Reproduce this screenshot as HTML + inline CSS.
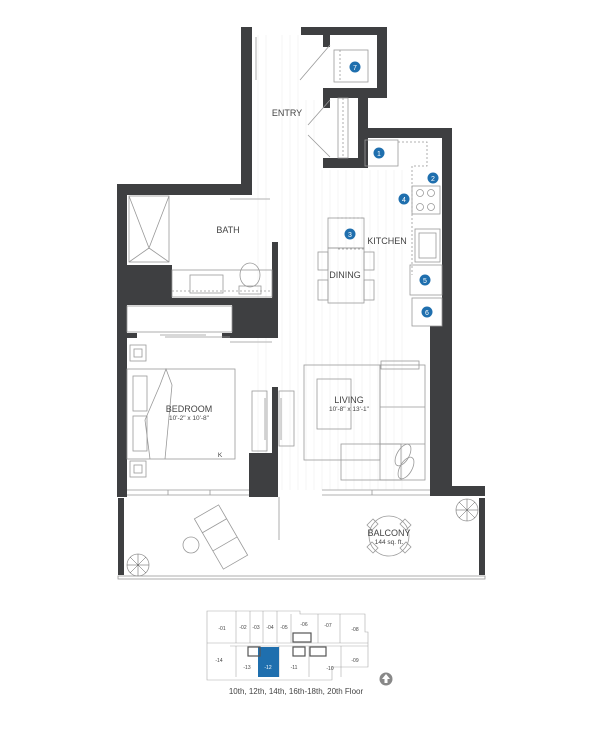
<!DOCTYPE html>
<html><head><meta charset="utf-8"><style>
html,body{margin:0;padding:0;background:#fff;}
svg{display:block;}
text{font-family:"Liberation Sans",sans-serif;fill:#444;}
</style></head><body>
<svg width="600" height="742" viewBox="0 0 600 742" xmlns="http://www.w3.org/2000/svg">
<!-- floor lines -->
<g stroke="#eeeeee" stroke-width="0.6">
<line x1="258" y1="35" x2="258" y2="490"/><line x1="266" y1="35" x2="266" y2="490"/><line x1="282" y1="35" x2="282" y2="490"/><line x1="290" y1="35" x2="290" y2="490"/><line x1="298" y1="35" x2="298" y2="490"/><line x1="306" y1="100" x2="306" y2="490"/><line x1="314" y1="100" x2="314" y2="490"/><line x1="322" y1="170" x2="322" y2="490"/><line x1="330" y1="170" x2="330" y2="490"/><line x1="338" y1="170" x2="338" y2="490"/><line x1="346" y1="170" x2="346" y2="490"/><line x1="354" y1="170" x2="354" y2="490"/><line x1="362" y1="170" x2="362" y2="490"/><line x1="370" y1="170" x2="370" y2="490"/><line x1="378" y1="170" x2="378" y2="490"/><line x1="386" y1="170" x2="386" y2="490"/><line x1="394" y1="170" x2="394" y2="490"/><line x1="402" y1="170" x2="402" y2="490"/>
</g>
<!-- walls -->
<g fill="#3e3f41">
<rect x="241" y="27" width="11" height="168"/>
<rect x="301" y="27" width="86" height="8"/>
<rect x="377" y="27" width="10" height="71"/>
<rect x="323" y="35" width="7" height="12"/>
<rect x="323" y="88" width="64" height="10"/>
<rect x="323" y="98" width="7" height="10"/>
<rect x="358" y="98" width="10" height="70"/>
<rect x="323" y="158" width="45" height="10"/>
<rect x="358" y="128" width="94" height="10"/>
<rect x="442" y="128" width="10" height="200"/>
<rect x="430" y="326" width="22" height="170"/>
<rect x="430" y="486" width="55" height="10"/>
<rect x="117" y="184" width="135" height="11"/>
<rect x="117" y="184" width="10" height="313"/>
<rect x="127" y="265" width="45" height="40"/>
<rect x="127" y="298" width="151" height="7"/>
<rect x="272" y="242" width="6" height="60"/>
<rect x="232" y="305" width="46" height="33"/>
<rect x="127" y="333" width="10" height="5"/>
<rect x="222" y="333" width="56" height="5"/>
<rect x="272" y="387" width="6" height="70"/>
<rect x="249" y="453" width="29" height="44"/>
<rect x="118" y="498" width="6" height="77"/>
<rect x="479" y="498" width="6" height="77"/>
</g>
<g fill="none" stroke="#999" stroke-width="0.8">
<!-- balcony rail -->
<rect x="118" y="576" width="367" height="3"/>
<line x1="279" y1="497" x2="279" y2="540"/>
<!-- windows -->
<line x1="127" y1="490" x2="249" y2="490"/><line x1="127" y1="495" x2="249" y2="495"/>
<line x1="322" y1="490" x2="430" y2="490"/><line x1="322" y1="495" x2="430" y2="495"/>
<line x1="168" y1="490" x2="168" y2="495"/><line x1="210" y1="490" x2="210" y2="495"/><line x1="372" y1="490" x2="372" y2="495"/>
<!-- entry door -->
<line x1="256" y1="37" x2="256" y2="80"/>
<line x1="330" y1="45" x2="300" y2="80"/>
<line x1="330" y1="100" x2="308" y2="125"/><line x1="330" y1="157" x2="308" y2="135"/>
<!-- closet 7 -->
<rect x="334" y="50" width="34" height="32"/><line x1="340" y1="50" x2="340" y2="82" stroke-dasharray="2,2"/>
<rect x="338" y="98" width="10" height="60"/><line x1="343" y1="98" x2="343" y2="158" stroke-dasharray="2,2"/>
<!-- kitchen -->
<rect x="365" y="140" width="33" height="26"/>
<path d="M398 142 H427 V166 H412 V275" stroke-dasharray="2,2"/>
<rect x="412" y="186" width="28" height="28"/>
<circle cx="420" cy="193" r="3.5"/><circle cx="431" cy="193" r="3.5"/><circle cx="420" cy="207" r="3.5"/><circle cx="431" cy="207" r="3.5"/>
<rect x="415" y="229" width="25" height="33"/><rect x="419" y="233" width="17" height="25"/>
<rect x="410" y="265" width="32" height="30"/>
<rect x="412" y="298" width="30" height="28"/>
<!-- island/dining -->
<rect x="328" y="218" width="36" height="30"/><line x1="337" y1="218" x2="364" y2="218" stroke-dasharray="2,2"/><line x1="338" y1="249" x2="364" y2="249" stroke-dasharray="2,2"/>
<rect x="328" y="248" width="36" height="55"/>
<rect x="318" y="252" width="10" height="18"/><rect x="318" y="280" width="10" height="20"/><rect x="364" y="252" width="10" height="18"/><rect x="364" y="280" width="10" height="20"/>
<!-- bath -->
<rect x="129" y="196" width="40" height="66"/><path d="M129 196 L149 248 L169 196 M149 248 L129 262 M149 248 L169 262"/>
<rect x="172" y="270" width="100" height="27"/><rect x="190" y="275" width="33" height="18"/>
<line x1="172" y1="291" x2="272" y2="291" stroke-dasharray="2,2"/>
<ellipse cx="250" cy="275" rx="10" ry="12"/><rect x="239" y="286" width="22" height="8"/>
<line x1="230" y1="199" x2="270" y2="199"/>
<!-- bedroom -->
<rect x="127" y="306" width="105" height="26"/>
<line x1="160" y1="335" x2="206" y2="335"/><line x1="165" y1="337" x2="230" y2="337"/>
<line x1="230" y1="342" x2="272" y2="342"/>
<rect x="130" y="345" width="16" height="16"/><rect x="134" y="349" width="8" height="8"/>
<rect x="130" y="461" width="16" height="16"/><rect x="134" y="465" width="8" height="8"/>
<rect x="127" y="369" width="108" height="90"/>
<rect x="133" y="376" width="14" height="35"/><rect x="133" y="416" width="14" height="35"/>
<path d="M150 459 L145 420 L160 385 L166 369 L172 385 L165 459"/>
<!-- tv -->
<rect x="252" y="391" width="15" height="60"/><rect x="279" y="391" width="15" height="55"/>
<line x1="265" y1="398" x2="265" y2="440"/><line x1="281" y1="398" x2="281" y2="440"/>
<!-- living -->
<rect x="304" y="365" width="76" height="95"/>
<rect x="317" y="379" width="34" height="50"/>
<rect x="380" y="365" width="45" height="115"/><rect x="381" y="361" width="38" height="8"/>
<line x1="380" y1="407" x2="425" y2="407"/><line x1="380" y1="444" x2="425" y2="444"/>
<rect x="341" y="444" width="60" height="36"/>
<ellipse cx="403" cy="455" rx="6" ry="12" transform="rotate(30 403 455)"/>
<ellipse cx="406" cy="468" rx="6" ry="12" transform="rotate(30 406 468)"/>
<!-- balcony furniture -->
<g transform="rotate(-30 221 537)"><rect x="207" y="508" width="28" height="58"/><line x1="207" y1="524" x2="235" y2="524"/><line x1="207" y1="545" x2="235" y2="545"/></g>
<circle cx="191" cy="545" r="8"/>
<circle cx="389" cy="536" r="20"/>
<path d="M373 519 l-6 6 5 5 6 -6z M405 519 l6 6 -5 5 -6 -6z M373 553 l-6 -6 5 -5 6 6z M405 553 l6 -6 -5 -5 -6 6z"/>
<circle cx="138" cy="565" r="11"/><circle cx="467" cy="510" r="11"/>
</g>
<g stroke="#555" stroke-width="0.5">
<path d="M127 565 h22 M138 554 v22 M130 557 l16 16 M146 557 l-16 16 M456 510 h22 M467 499 v22 M459 502 l16 16 M475 502 l-16 16"/>
</g>
<!-- badges -->
<g fill="#1f6fae">
<circle cx="355" cy="67" r="5.5"/><circle cx="379" cy="153" r="5.5"/><circle cx="433" cy="178" r="5.5"/><circle cx="404" cy="199" r="5.5"/><circle cx="350" cy="234" r="5.5"/><circle cx="425" cy="280" r="5.5"/><circle cx="427" cy="312" r="5.5"/>
</g>
<g font-size="7" text-anchor="middle" style="fill:#fff">
<text x="355" y="70" style="fill:#fff">7</text><text x="379" y="156" style="fill:#fff">1</text><text x="433" y="181" style="fill:#fff">2</text><text x="404" y="202" style="fill:#fff">4</text><text x="350" y="237" style="fill:#fff">3</text><text x="425" y="283" style="fill:#fff">5</text><text x="427" y="315" style="fill:#fff">6</text>
</g>
<!-- labels -->
<g font-size="9" text-anchor="middle">
<text x="287" y="116">ENTRY</text>
<text x="228" y="233">BATH</text>
<text x="387" y="244">KITCHEN</text>
<text x="345" y="278">DINING</text>
<text x="189" y="412">BEDROOM</text>
<text x="349" y="403">LIVING</text>
<text x="389" y="536">BALCONY</text>
</g>
<g font-size="6.5" text-anchor="middle">
<text x="189" y="420">10'-2" x 10'-8"</text>
<text x="349" y="411">10'-8" x 13'-1"</text>
<text x="389" y="544">144 sq. ft.</text>
<text x="220" y="457">K</text>
</g>
<!-- key plan -->
<g fill="none" stroke="#aaa" stroke-width="0.6">
<path d="M207 611 H300 V614 H365 V632 H368 V667 H332 V680 H207 Z"/>
<line x1="207" y1="643" x2="368" y2="643"/><line x1="230" y1="646" x2="368" y2="646"/>
<line x1="236" y1="611" x2="236" y2="643"/><line x1="250" y1="611" x2="250" y2="643"/><line x1="263" y1="611" x2="263" y2="643"/><line x1="277" y1="611" x2="277" y2="643"/><line x1="291" y1="614" x2="291" y2="643"/><line x1="318" y1="614" x2="318" y2="643"/><line x1="340" y1="614" x2="340" y2="643"/>
<line x1="236" y1="646" x2="236" y2="677"/><line x1="279" y1="646" x2="279" y2="677"/><line x1="309" y1="646" x2="309" y2="677"/><line x1="341" y1="646" x2="341" y2="677"/>
</g>
<rect x="258" y="647" width="21" height="30" fill="#1f6fae"/>
<g fill="none" stroke="#555" stroke-width="1.2"><rect x="248" y="647" width="12" height="9"/><rect x="293" y="633" width="18" height="9"/><rect x="293" y="647" width="12" height="9"/><rect x="310" y="647" width="16" height="9"/></g>
<g font-size="5" text-anchor="middle">
<text x="222" y="630">-01</text><text x="243" y="629">-02</text><text x="256" y="629">-03</text><text x="270" y="629">-04</text><text x="284" y="629">-05</text><text x="304" y="626">-06</text><text x="328" y="627">-07</text><text x="355" y="631">-08</text>
<text x="219" y="662">-14</text><text x="247" y="669">-13</text><text x="268" y="669" style="fill:#fff">-12</text><text x="294" y="669">-11</text><text x="330" y="670">-10</text><text x="355" y="662">-09</text>
</g>
<circle cx="386" cy="679" r="6.5" fill="#888"/><path d="M386 674 l-4 5 h2.5 v4 h3 v-4 h2.5z" fill="#fff"/>
<text x="296" y="694" font-size="8" text-anchor="middle">10th, 12th, 14th, 16th-18th, 20th Floor</text>
</svg>
</body></html>
